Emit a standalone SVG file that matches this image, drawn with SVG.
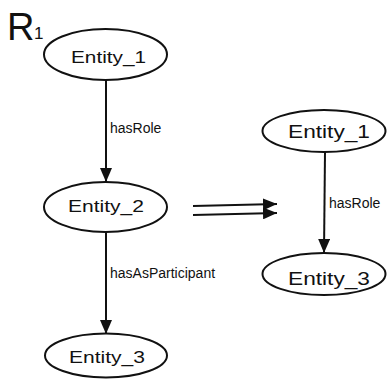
<svg xmlns="http://www.w3.org/2000/svg" width="387" height="379" viewBox="0 0 387 379">
  <style>
    .node { fill: #ffffff; stroke: #111111; stroke-width: 2; }
    .name { font-family: "Liberation Sans", Arial, sans-serif; fill: #111111; }
    .edge { stroke: #111111; stroke-width: 2; fill: none; }
    .lbl { font-family: "Liberation Sans", Arial, sans-serif; font-size: 14px; fill: #111111; }
  </style>
  <defs>
    <marker id="arrow" viewBox="0 0 14 12" refX="14" refY="6" markerWidth="14" markerHeight="12" markerUnits="userSpaceOnUse" orient="auto">
      <path d="M0,0 L14,6 L0,12 Z" fill="#111111"/>
    </marker>
  </defs>

  <!-- rule label -->
  <g id="rule-label" class="name">
    <text x="7" y="40" font-size="38">R</text>
    <text x="34" y="39" font-size="17">1</text>
  </g>

  <!-- connectors -->
  <g id="connectors">
    <line class="edge" x1="106" y1="80" x2="106" y2="182" marker-end="url(#arrow)"/>
    <line class="edge" x1="106" y1="232" x2="106" y2="334" marker-end="url(#arrow)"/>
    <line class="edge" x1="325" y1="152" x2="324" y2="253" marker-end="url(#arrow)"/>
    <line class="edge" x1="193" y1="206" x2="277" y2="204" marker-end="url(#arrow)"/>
    <line class="edge" x1="193" y1="215" x2="277" y2="213" marker-end="url(#arrow)"/>
    <text class="lbl" x="110" y="133">hasRole</text>
    <text class="lbl" x="110" y="278">hasAsParticipant</text>
    <text class="lbl" x="329" y="208">hasRole</text>
  </g>

  <!-- left graph -->
  <g id="l-entity1">
    <ellipse class="node" cx="105.5" cy="54.5" rx="61.5" ry="25.5"/>
    <text class="name" x="71" y="63" font-size="17" textLength="75" lengthAdjust="spacingAndGlyphs">Entity_1</text>
  </g>
  <g id="l-entity2">
    <ellipse class="node" cx="105.5" cy="207" rx="61.5" ry="25"/>
    <text class="name" x="68" y="212" font-size="17" textLength="76" lengthAdjust="spacingAndGlyphs">Entity_2</text>
  </g>
  <g id="l-entity3">
    <ellipse class="node" cx="106" cy="355.5" rx="61" ry="22"/>
    <text class="name" x="69" y="363" font-size="17" textLength="76" lengthAdjust="spacingAndGlyphs">Entity_3</text>
  </g>

  <!-- right graph -->
  <g id="r-entity1">
    <ellipse class="node" cx="324" cy="131" rx="61.5" ry="21"/>
    <text class="name" x="288" y="138" font-size="19" textLength="82" lengthAdjust="spacingAndGlyphs">Entity_1</text>
  </g>
  <g id="r-entity3">
    <ellipse class="node" cx="324" cy="274" rx="61.5" ry="21"/>
    <text class="name" x="288" y="285" font-size="19" textLength="82" lengthAdjust="spacingAndGlyphs">Entity_3</text>
  </g>
</svg>
